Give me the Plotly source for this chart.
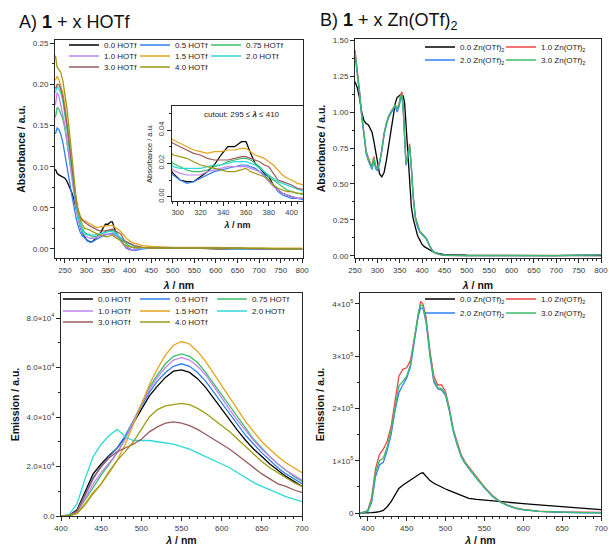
import plotly.graph_objects as go

W, H = 609, 546
FONT = "Arial, Liberation Sans, sans-serif"

# ---------------- data: panel A, absorbance (1 + x HOTf) ----------------
abs_h_wl = [228, 232, 236, 240, 245, 250, 255, 260, 265, 270, 275, 280, 285, 290, 296,
            302, 308, 314, 320, 326, 332, 338, 344, 350, 356, 360, 364, 368, 372, 376,
            380, 384, 388, 392, 396, 400, 405, 411, 420, 430, 450, 500, 550, 600, 650,
            700, 750, 800]
abs_h_00 = [0.097, 0.092, 0.090, 0.089, 0.088, 0.086, 0.082, 0.077, 0.070, 0.062, 0.052, 0.040, 0.028, 0.020, 0.014,
            0.010, 0.009, 0.009, 0.012, 0.015, 0.019, 0.025, 0.030, 0.030, 0.033, 0.033, 0.026, 0.020, 0.017, 0.014,
            0.012, 0.007, 0.004, 0.002, 0.001, 0.000, -0.001, -0.001, 0.000, 0.001, 0.001, 0.001, 0.001, 0.000, 0.000,
            0.000, 0.000, 0.000]
abs_h_05 = [0.140, 0.147, 0.145, 0.140, 0.130, 0.116, 0.100, 0.084, 0.068, 0.053, 0.040, 0.029, 0.021, 0.016, 0.013,
            0.010, 0.008, 0.009, 0.011, 0.013, 0.015, 0.016, 0.017, 0.018, 0.019, 0.019, 0.018, 0.017, 0.015, 0.013,
            0.010, 0.007, 0.003, 0.001, 0.000, -0.001, -0.001, -0.002, -0.001, 0.000, 0.001, 0.001, 0.001, 0.001, 0.000,
            0.000, 0.000, 0.000]
abs_h_075 = [0.160, 0.172, 0.170, 0.165, 0.158, 0.146, 0.128, 0.108, 0.089, 0.071, 0.055, 0.041, 0.031, 0.025, 0.020,
             0.018, 0.016, 0.015, 0.015, 0.016, 0.018, 0.019, 0.021, 0.022, 0.023, 0.023, 0.022, 0.020, 0.018, 0.015,
             0.012, 0.010, 0.008, 0.006, 0.004, 0.003, 0.002, 0.001, 0.001, 0.001, 0.001, 0.001, 0.001, 0.001, 0.001,
             0.000, 0.000, 0.000]
abs_h_10 = [0.175, 0.190, 0.186, 0.176, 0.165, 0.150, 0.130, 0.110, 0.090, 0.070, 0.052, 0.037, 0.027, 0.020, 0.016,
            0.014, 0.013, 0.013, 0.013, 0.015, 0.016, 0.017, 0.018, 0.018, 0.018, 0.018, 0.017, 0.016, 0.015, 0.012,
            0.009, 0.006, 0.004, 0.002, 0.001, 0.000, -0.001, -0.001, 0.000, 0.001, 0.001, 0.001, 0.001, 0.001, 0.000,
            0.000, 0.000, 0.000]
abs_h_15 = [0.205, 0.210, 0.206, 0.200, 0.190, 0.175, 0.155, 0.131, 0.106, 0.083, 0.064, 0.050, 0.041, 0.036, 0.034,
            0.032, 0.030, 0.028, 0.027, 0.026, 0.027, 0.027, 0.028, 0.028, 0.029, 0.029, 0.027, 0.025, 0.024, 0.023,
            0.021, 0.019, 0.016, 0.013, 0.011, 0.010, 0.008, 0.007, 0.005, 0.004, 0.003, 0.002, 0.002, 0.002, 0.001,
            0.001, 0.001, 0.001]
abs_h_20 = [0.190, 0.198, 0.195, 0.190, 0.180, 0.165, 0.145, 0.122, 0.099, 0.077, 0.058, 0.042, 0.031, 0.023, 0.018,
            0.017, 0.017, 0.017, 0.017, 0.018, 0.019, 0.019, 0.020, 0.021, 0.021, 0.021, 0.020, 0.019, 0.017, 0.015,
            0.013, 0.011, 0.009, 0.008, 0.007, 0.006, 0.005, 0.003, 0.002, 0.001, 0.001, 0.001, 0.001, 0.001, 0.000,
            0.000, 0.000, 0.000]
abs_h_30 = [0.195, 0.200, 0.200, 0.195, 0.185, 0.170, 0.150, 0.127, 0.103, 0.080, 0.061, 0.047, 0.039, 0.035, 0.032,
            0.030, 0.028, 0.026, 0.025, 0.023, 0.022, 0.022, 0.022, 0.023, 0.024, 0.024, 0.023, 0.022, 0.021, 0.019,
            0.018, 0.014, 0.010, 0.009, 0.008, 0.007, 0.005, 0.004, 0.003, 0.002, 0.001, 0.001, 0.001, 0.001, 0.001,
            0.000, 0.000, 0.000]
abs_h_40 = [0.235, 0.221, 0.218, 0.215, 0.205, 0.190, 0.170, 0.145, 0.118, 0.090, 0.066, 0.048, 0.037, 0.030, 0.025,
            0.024, 0.023, 0.021, 0.019, 0.018, 0.017, 0.016, 0.015, 0.015, 0.016, 0.017, 0.015, 0.014, 0.013, 0.012,
            0.010, 0.007, 0.005, 0.004, 0.003, 0.003, 0.002, 0.002, 0.002, 0.002, 0.001, 0.001, 0.001, 0.001, 0.001,
            0.001, 0.000, 0.000]

# ---------------- data: panel A, emission ----------------
em_h_wl = [400, 410, 420, 430, 440, 450, 460, 470, 480, 490, 500, 510, 520, 530, 540, 550,
           560, 570, 580, 590, 600, 610, 620, 630, 640, 650, 660, 670, 680, 690, 700]
em_h_00 = [0, 200, 2500, 10000, 17000, 21000, 24500, 27500, 32000, 37500, 43000, 48500, 52500, 56000, 58500, 59000,
           58000, 55500, 52000, 47500, 43000, 38500, 34500, 30500, 27000, 24000, 21000, 18500, 16000, 14000, 12000]
em_h_05 = [0, 200, 2000, 9000, 15500, 20000, 24000, 27500, 32500, 38500, 44500, 50000, 54500, 58000, 60500, 61500,
           60500, 58000, 54500, 50000, 45500, 41000, 36500, 32500, 29000, 25500, 22500, 19500, 17000, 15000, 13000]
em_h_075 = [0, 150, 1500, 6500, 12000, 16500, 21000, 25500, 31500, 38500, 45500, 52000, 57000, 61500, 64500, 65500,
            64500, 62000, 58000, 53500, 48500, 44000, 39500, 35000, 31000, 27500, 24000, 21000, 18500, 16000, 14000]
em_h_10 = [0, 150, 1500, 7000, 13000, 17500, 21500, 25500, 31000, 38000, 45000, 51000, 56000, 60000, 63000, 64000,
           63000, 60500, 57000, 52500, 47500, 43000, 38500, 34500, 30500, 27000, 24000, 21000, 18500, 16500, 14500]
em_h_15 = [0, 100, 1000, 5000, 9500, 13000, 17500, 22500, 29000, 37000, 45500, 53000, 59500, 65000, 69000, 70500,
           69500, 66500, 62500, 57500, 52500, 47500, 42500, 38000, 34000, 30000, 27000, 24000, 21500, 19500, 17500]
em_h_20 = [0, 500, 5000, 15000, 24000, 29000, 32500, 35000, 32000, 30500, 30500, 30500, 30000, 29500, 29000, 28000,
           27000, 25500, 24000, 22500, 21000, 19500, 17500, 15500, 13500, 12000, 10500, 9000, 7800, 6800, 5800]
em_h_30 = [0, 200, 2000, 8500, 15000, 20000, 23500, 26000, 27500, 29000, 31000, 34000, 36000, 37500, 38000, 37500,
           36500, 35000, 33000, 31000, 29000, 27000, 24500, 22000, 19500, 17000, 15000, 13000, 12000, 10500, 9500]
em_h_40 = [0, 100, 1000, 4500, 9000, 13000, 18000, 22500, 26000, 30000, 35000, 40000, 43000, 44500, 45000, 45500,
           45000, 43500, 41500, 39000, 36500, 34000, 31000, 28000, 25000, 22000, 19500, 17500, 15500, 13500, 12000]

hotf_labels = ["0.0 HOTf", "0.5 HOTf", "0.75 HOTf", "1.0 HOTf", "1.5 HOTf", "2.0 HOTf", "3.0 HOTf", "4.0 HOTf"]
hotf_colors = ["#000000", "#2f7ff0", "#3dbd6c", "#c283ee", "#e3a31e", "#2fd8d8", "#9a5c5c", "#9d9a14"]

# ---------------- data: panel B, absorbance (1 + x Zn(OTf)2) ----------------
abs_z_wl = [250, 255, 260, 265, 270, 275, 280, 285, 288, 292, 296, 300, 305, 310, 315, 320, 325, 330, 335, 340,
            344, 348, 352, 355, 358, 361, 364, 368, 372, 376, 380, 385, 390, 395, 400, 405, 410, 415, 420, 425,
            430, 440, 450, 500, 600, 700, 800]
abs_z_00 = [1.21, 1.17, 1.10, 1.00, 0.94, 0.92, 0.91, 0.88, 0.86, 0.80, 0.72, 0.64, 0.57, 0.55, 0.58, 0.66, 0.76, 0.87, 0.97, 1.06,
            1.10, 1.11, 1.12, 1.12, 1.11, 1.06, 0.90, 0.75, 0.52, 0.34, 0.26, 0.19, 0.14, 0.11, 0.08, 0.065, 0.055, 0.045, 0.035, 0.028,
            0.022, 0.015, 0.010, 0.005, 0.003, 0.003, 0.003]
abs_z_10 = [1.43, 1.30, 1.15, 0.98, 0.84, 0.73, 0.68, 0.64, 0.62, 0.69, 0.63, 0.60, 0.65, 0.74, 0.85, 0.92, 0.97, 1.00, 1.03, 1.05,
            1.02, 1.05, 1.12, 1.14, 1.02, 0.80, 0.65, 0.70, 0.78, 0.62, 0.42, 0.27, 0.21, 0.17, 0.155, 0.14, 0.12, 0.085, 0.05, 0.03,
            0.02, 0.01, 0.005, 0.002, 0.001, 0.002, 0.008]
abs_z_20 = [1.40, 1.28, 1.13, 0.97, 0.83, 0.71, 0.66, 0.62, 0.60, 0.66, 0.61, 0.59, 0.64, 0.73, 0.84, 0.91, 0.96, 0.99, 1.02, 1.04,
            1.00, 1.03, 1.09, 1.11, 1.00, 0.78, 0.63, 0.68, 0.76, 0.61, 0.41, 0.26, 0.20, 0.165, 0.15, 0.135, 0.115, 0.08, 0.05, 0.03,
            0.02, 0.01, 0.005, 0.002, 0.001, 0.002, 0.008]
abs_z_30 = [1.42, 1.29, 1.14, 0.98, 0.84, 0.72, 0.67, 0.63, 0.61, 0.68, 0.62, 0.60, 0.65, 0.74, 0.85, 0.92, 0.97, 1.00, 1.03, 1.05,
            1.02, 1.05, 1.11, 1.12, 1.01, 0.79, 0.64, 0.70, 0.77, 0.62, 0.42, 0.27, 0.21, 0.17, 0.155, 0.14, 0.12, 0.085, 0.05, 0.03,
            0.02, 0.01, 0.005, 0.002, 0.001, 0.002, 0.010]

# ---------------- data: panel B, emission ----------------
em_z_wl = [390, 395, 400, 405, 410, 415, 420, 425, 430, 435, 440, 445, 450, 455, 460, 465, 468, 471, 475, 480,
           485, 490, 495, 500, 505, 510, 515, 520, 525, 530, 540, 550, 560, 570, 580, 590, 600, 620, 640, 660,
           680, 700]
em_z_00 = [0, 0, 300, 800, 1500, 2500, 5000, 12000, 22000, 35000, 47000, 53000, 58000, 62000, 67000, 72000, 76000, 77000, 70000, 62000,
           57000, 53000, 49000, 46000, 43000, 40000, 36000, 33000, 30000, 28000, 26000, 24500, 23000, 21500, 20000, 19000, 18000, 15500, 13000, 10500,
           8500, 6500]
em_z_10 = [0, 1500, 5000, 30000, 85000, 112000, 122000, 138000, 165000, 215000, 262000, 275000, 278000, 292000, 335000, 385000, 405000, 400000, 375000, 310000,
           262000, 245000, 245000, 232000, 200000, 160000, 135000, 112000, 98000, 88000, 68000, 50000, 34000, 22000, 15000, 10000, 7000, 3500, 2000, 1500,
           1000, 1000]
em_z_20 = [0, 1000, 3000, 20000, 70000, 92000, 97000, 120000, 150000, 195000, 230000, 245000, 258000, 280000, 325000, 378000, 392000, 392000, 365000, 300000,
           250000, 238000, 235000, 225000, 195000, 156000, 130000, 108000, 95000, 85000, 66000, 48000, 32000, 21000, 14000, 9000, 6000, 3000, 1500, 1000,
           500, 500]
em_z_30 = [0, 1200, 4000, 25000, 78000, 100000, 105000, 127000, 157000, 203000, 243000, 252000, 262000, 285000, 330000, 383000, 398000, 396000, 368000, 305000,
           255000, 240000, 238000, 228000, 197000, 158000, 132000, 110000, 96000, 86000, 67000, 49000, 33000, 21500, 14500, 9500, 6500, 3200, 1800, 1200,
           800, 800]

zn_labels = ["0.0 Zn(OTf)<sub>2</sub>", "1.0 Zn(OTf)<sub>2</sub>", "2.0 Zn(OTf)<sub>2</sub>", "3.0 Zn(OTf)<sub>2</sub>"]
zn_colors = ["#000000", "#f04545", "#2f7ff0", "#3dbd6c"]

# tick labels
em_h_tickvals = [0, 20000, 40000, 60000, 80000]
em_h_ticktext = ["0.0", "2.0×10<sup>4</sup>", "4.0×10<sup>4</sup>", "6.0×10<sup>4</sup>", "8.0×10<sup>4</sup>"]
em_z_tickvals = [0, 100000, 200000, 300000, 400000]
em_z_ticktext = ["0", "1×10<sup>5</sup>", "2×10<sup>5</sup>", "3×10<sup>5</sup>", "4×10<sup>5</sup>"]

# ---------------- figure ----------------
def dx(a, b):
    return [a / W, b / W]

def dy(top, bottom):
    return [1 - bottom / H, 1 - top / H]

AXC = "#262626"
TF = dict(size=8, color="#3a3a3a", family=FONT)
TITLEF = dict(size=10.5, color="#111111", family=FONT)
LAMBDA = "<b><i>λ</i> / nm</b>"


def axis(domain, rng, anchor, dtick=None, mdtick=None, title=None, standoff=6,
         tickvals=None, ticktext=None, tickformat=None, tickfont=TF, tickangle=None, titlefont=TITLEF):
    a = dict(domain=domain, range=rng, anchor=anchor, automargin=False, showline=True, linecolor=AXC,
             linewidth=1, mirror=True, ticks="outside", ticklen=4, tickwidth=1, tickcolor=AXC,
             showgrid=False, zeroline=False, tickfont=tickfont)
    if tickvals is not None:
        a.update(tickmode="array", tickvals=tickvals, ticktext=ticktext)
    else:
        a.update(tickmode="linear", dtick=dtick, tick0=0)
    if tickformat:
        a["tickformat"] = tickformat
    if tickangle is not None:
        a["tickangle"] = tickangle
    if mdtick:
        a["minor"] = dict(ticks="outside", ticklen=2, tickwidth=1, tickcolor=AXC, dtick=mdtick,
                          tick0=0, showgrid=False)
    if title:
        a["title"] = dict(text=title, font=titlefont, standoff=standoff)
    return a


fig = go.Figure()

# legend rows (one horizontal legend per row) and per-entry widths
tl_leg = ["legend", "legend", "legend", "legend2", "legend2", "legend2", "legend3", "legend3"]
bl_leg = ["legend4", "legend4", "legend4", "legend5", "legend5", "legend5", "legend6", "legend6"]
tr_leg = ["legend7", "legend7", "legend8", "legend8"]
br_leg = ["legend9", "legend9", "legend10", "legend10"]
tl_lw = [26, 26, None, 26, 26, None, 26, None]
bl_lw = [32, 32, None, 32, 32, None, 32, None]
zn_lw = [36, None, 36, None]

hotf_abs = [abs_h_00, abs_h_05, abs_h_075, abs_h_10, abs_h_15, abs_h_20, abs_h_30, abs_h_40]
hotf_em = [em_h_00, em_h_05, em_h_075, em_h_10, em_h_15, em_h_20, em_h_30, em_h_40]
zn_abs = [abs_z_00, abs_z_10, abs_z_20, abs_z_30]
zn_em = [em_z_00, em_z_10, em_z_20, em_z_30]


def trace(x, y, name, color, xa, ya, legend=None, lw=None, width=1.3):
    t = go.Scatter(x=x, y=y, mode="lines", name=name, line=dict(color=color, width=width),
                   xaxis=xa, yaxis=ya)
    if legend is None:
        t.showlegend = False
    else:
        t.legend = legend
        if lw:
            t.legendwidth = lw
    return t


for i in range(8):
    fig.add_trace(trace(abs_h_wl, hotf_abs[i], hotf_labels[i], hotf_colors[i], "x", "y", tl_leg[i], tl_lw[i]))
for i in range(8):
    fig.add_trace(trace(abs_h_wl, hotf_abs[i], hotf_labels[i], hotf_colors[i], "x2", "y2", width=1.2))
for i in range(8):
    fig.add_trace(trace(em_h_wl, hotf_em[i], hotf_labels[i], hotf_colors[i], "x4", "y4", bl_leg[i], bl_lw[i]))
for i in range(4):
    fig.add_trace(trace(abs_z_wl, zn_abs[i], zn_labels[i], zn_colors[i], "x3", "y3", tr_leg[i], zn_lw[i]))
for i in range(4):
    fig.add_trace(trace(em_z_wl, zn_em[i], zn_labels[i], zn_colors[i], "x5", "y5", br_leg[i], zn_lw[i]))

INSET_TF = dict(size=7.5, color="#3a3a3a", family=FONT)

layout = dict(
    width=W, height=H, margin=dict(l=0, r=0, t=0, b=0, autoexpand=False),
    paper_bgcolor="white", plot_bgcolor="rgba(0,0,0,0)", font=dict(family=FONT),
    # top-left: absorbance HOTf
    xaxis=axis(dx(55, 303), [227, 802], "y", dtick=50, mdtick=10, title=LAMBDA, standoff=8),
    yaxis=axis(dy(40, 258), [-0.011, 0.254], "x", dtick=0.05, mdtick=0.025, tickformat=".2f",
               title="<b>Absorbance / a.u.</b>", standoff=5),
    # inset
    xaxis2=axis(dx(172, 303), [295, 410], "y2", dtick=20, mdtick=5, tickfont=INSET_TF,
                title=LAMBDA, standoff=5, titlefont=dict(size=9, color="#111111", family=FONT)),
    yaxis2=axis(dy(106, 201), [-0.0026, 0.0544], "x2", dtick=0.02, mdtick=0.01, tickformat=".2f",
                tickfont=INSET_TF, tickangle=-90, title="Absorbance / a.u.", standoff=3,
                titlefont=dict(size=7.5, color="#222222", family=FONT)),
    # top-right: absorbance Zn
    xaxis3=axis(dx(355, 601), [250, 800], "y3", dtick=50, mdtick=10, title=LAMBDA, standoff=8),
    yaxis3=axis(dy(39, 258), [-0.014, 1.507], "x3", dtick=0.25, mdtick=0.125, tickformat=".2f",
                title="<b>Absorbance / a.u.</b>", standoff=5),
    # bottom-left: emission HOTf
    xaxis4=axis(dx(61, 302), [400, 700], "y4", dtick=50, mdtick=10, title=LAMBDA, standoff=6),
    yaxis4=axis(dy(293, 516), [0, 90100], "x4", mdtick=10000, tickvals=em_h_tickvals,
                ticktext=em_h_ticktext, title="<b>Emission / a.u.</b>", standoff=4),
    # bottom-right: emission Zn
    xaxis5=axis(dx(360, 601), [390, 700], "y5", dtick=50, mdtick=10, title=LAMBDA, standoff=6),
    yaxis5=axis(dy(293, 516), [-5700, 421000], "x5", mdtick=50000, tickvals=em_z_tickvals,
                ticktext=em_z_ticktext, title="<b>Emission / a.u.</b>", standoff=5),
)


def leg(text_x, row_y):
    return dict(x=(text_x - 40) / W, y=1 - (row_y - 14.5) / H, xanchor="left", yanchor="top",
                orientation="h", itemwidth=30, bgcolor="rgba(0,0,0,0)", borderwidth=0,
                font=dict(size=8, family=FONT, color="#222222"))


layout["legend"] = leg(104, 45)
layout["legend2"] = leg(104, 56)
layout["legend3"] = leg(104, 67)
layout["legend4"] = leg(98, 299)
layout["legend5"] = leg(98, 311)
layout["legend6"] = leg(98, 322)
layout["legend7"] = leg(460, 47)
layout["legend8"] = leg(460, 60)
layout["legend9"] = leg(460, 299)
layout["legend10"] = leg(460, 313)

layout["annotations"] = [
    dict(text="A) <b>1</b> + x HOTf", x=17 / W, y=1 - 22 / H, xref="paper", yref="paper",
         xanchor="left", yanchor="middle", showarrow=False, font=dict(size=18, family=FONT, color="#111111")),
    dict(text="B) <b>1</b> + x Zn(OTf)<sub>2</sub>", x=318 / W, y=1 - 22 / H, xref="paper", yref="paper",
         xanchor="left", yanchor="middle", showarrow=False, font=dict(size=18, family=FONT, color="#111111")),
    dict(text="cutout: 295 ≤ <b><i>λ</i></b> ≤ 410", x=242 / W, y=1 - 114 / H, xref="paper", yref="paper",
         xanchor="center", yanchor="middle", showarrow=False, font=dict(size=8, family=FONT, color="#222222")),
]

fig.update_layout(**layout)
# remove the browser's default 8px page margin so the figure sits at the window origin
fig.write_html("out.html", config={"displayModeBar": False},
               post_script="document.body.style.margin='0px';")
